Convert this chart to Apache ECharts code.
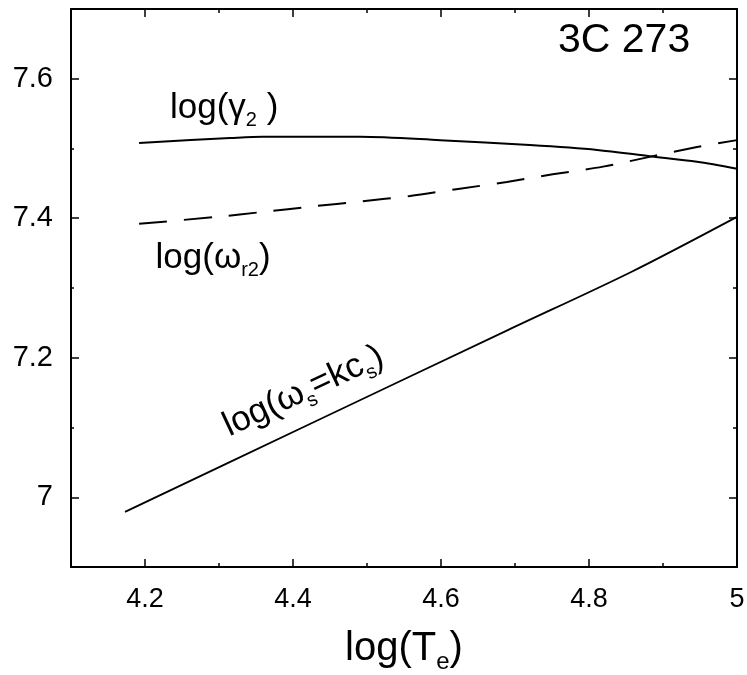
<!DOCTYPE html>
<html>
<head>
<meta charset="utf-8">
<script src="https://cdn.jsdelivr.net/npm/echarts@6/dist/echarts.min.js"></script>
<style>
  html, body { margin: 0; padding: 0; background: #fff; }
  #chart { width: 747px; height: 675px; }
</style>
</head>
<body>
<div id="chart"></div>
<script>
// log(gamma_2) versus log(T_e)
const gammaX = [4.192, 4.315, 4.359, 4.491, 4.599, 4.720, 4.811, 4.882, 4.946, 5.000];
const gammaY = [7.508, 7.515, 7.517, 7.517, 7.512, 7.505, 7.498, 7.489, 7.481, 7.471];

// log(omega_r2) versus log(T_e)
const omegaRX = [4.192, 4.297, 4.359, 4.427, 4.491, 4.558, 4.623, 4.689, 4.751, 4.819, 4.882, 4.946, 5.000];
const omegaRY = [7.392, 7.402, 7.409, 7.417, 7.424, 7.432, 7.442, 7.452, 7.463, 7.474, 7.488, 7.502, 7.512];

// log(omega_s = k c_s) versus log(T_e)
const omegaSX = [4.173, 4.415, 4.691, 4.857, 5.000];
const omegaSY = [6.979, 7.101, 7.240, 7.323, 7.402];

// axis ranges and tick values
const xRange = [4.1, 5.0];
const yRange = [6.9, 7.7];
const xMajorTicks = [4.2, 4.4, 4.6, 4.8];
const xMinorTicks = [4.3, 4.5, 4.7, 4.9];
const xTickLabels = [4.2, 4.4, 4.6, 4.8, 5];
const yMajorTicks = [7.0, 7.2, 7.4, 7.6];
const yMinorTicks = [7.1, 7.3, 7.5];
const yTickLabels = [7.0, 7.2, 7.4, 7.6];

// curve annotations (anchored in data space)
const noteText = ['log(γ{s|2} )', 'log(ω{s|r2})', 'log(ω{s|s}=kc{s|s})'];
const noteX = [4.307, 4.292, 4.414];
const noteY = [7.558, 7.342, 7.152];
const noteAngle = [0, 0, 25];

const FONT = "'Liberation Sans', Arial, Helvetica, sans-serif";
const INK = '#000';

const zip = (xs, ys) => xs.map((x, i) => [x, ys[i]]);

const richText = {
  n: { fontFamily: FONT, fontSize: 35, color: INK, lineHeight: 40 },
  s: { fontFamily: FONT, fontSize: 20, color: INK, lineHeight: 20, padding: [24, 0, 0, 0] }
};

function frameX(position, ticks, len, withLine, extra) {
  return Object.assign({
    type: 'value', position: position, min: xRange[0], max: xRange[1],
    axisLine: { show: withLine, onZero: false, lineStyle: { color: INK, width: 2 } },
    axisTick: { show: true, inside: true, length: len, customValues: ticks,
                lineStyle: { color: INK, width: 1.5 } },
    axisLabel: { show: false },
    splitLine: { show: false }
  }, extra || {});
}
function frameY(position, ticks, len, withLine, extra) {
  return Object.assign({
    type: 'value', position: position, min: yRange[0], max: yRange[1],
    axisLine: { show: withLine, onZero: false, lineStyle: { color: INK, width: 2 } },
    axisTick: { show: true, inside: true, length: len, customValues: ticks,
                lineStyle: { color: INK, width: 1.5 } },
    axisLabel: { show: false },
    splitLine: { show: false }
  }, extra || {});
}

const chart = echarts.init(document.getElementById('chart'), null, { renderer: 'canvas' });

chart.setOption({
  animation: false,
  backgroundColor: '#fff',
  title: {
    text: '3C 273', left: 553, top: 15,
    textStyle: { fontFamily: FONT, fontSize: 41, fontWeight: 'normal', color: INK }
  },
  grid: { left: 71, top: 9, width: 666, height: 558, containLabel: false, outerBoundsMode: 'none' },
  xAxis: [
    frameX('bottom', xMajorTicks, 8, true, {
      axisLabel: {
        show: true, customValues: xTickLabels, margin: 19,
        fontFamily: FONT, fontSize: 27, color: INK,
        formatter: v => (Math.abs(v - 5) < 1e-9 ? '5' : v.toFixed(1))
      },
      name: 'log(T{s|e})', nameLocation: 'middle', nameGap: 62,
      nameTextStyle: {
        rich: {
          n: { fontFamily: FONT, fontSize: 40, color: INK, lineHeight: 44 },
          s: { fontFamily: FONT, fontSize: 24, color: INK, lineHeight: 24, padding: [27, 0, 0, 0] }
        },
        fontFamily: FONT, fontSize: 40, color: INK
      }
    }),
    frameX('bottom', xMinorTicks, 4, false),
    frameX('top', xMajorTicks, 8, true),
    frameX('top', xMinorTicks, 4, false)
  ],
  yAxis: [
    frameY('left', yMajorTicks, 8, true, {
      axisLabel: {
        show: true, customValues: yTickLabels, margin: 18,
        fontFamily: FONT, fontSize: 29, color: INK,
        formatter: v => (Math.abs(v - 7) < 1e-9 ? '7' : v.toFixed(1))
      }
    }),
    frameY('left', yMinorTicks, 3, false),
    frameY('right', yMajorTicks, 8, true),
    frameY('right', yMinorTicks, 4, false)
  ],
  series: [
    {
      name: 'gamma2', type: 'line', data: zip(gammaX, gammaY),
      showSymbol: false, smooth: 0.3, silent: true,
      lineStyle: { color: INK, width: 2 }
    },
    {
      name: 'omegaR2', type: 'line', data: zip(omegaRX, omegaRY),
      showSymbol: false, smooth: 0.3, silent: true,
      lineStyle: { color: INK, width: 2, type: [28, 17] }
    },
    {
      name: 'omegaS', type: 'line', data: zip(omegaSX, omegaSY),
      showSymbol: false, smooth: 0.3, silent: true,
      lineStyle: { color: INK, width: 1.8 }
    },
    {
      name: 'notes', type: 'scatter', symbolSize: 0, silent: true,
      data: noteText.map((t, i) => ({
        value: [noteX[i], noteY[i]],
        label: {
          show: true, position: 'inside', rotate: noteAngle[i],
          color: INK, textBorderWidth: 0, opacity: 1,
          formatter: t.replace(/^([^{]*)/, '{n|$1}').replace(/\}([^{]+)/g, '}{n|$1}'),
          rich: richText
        }
      }))
    }
  ]
});
</script>
</body>
</html>
